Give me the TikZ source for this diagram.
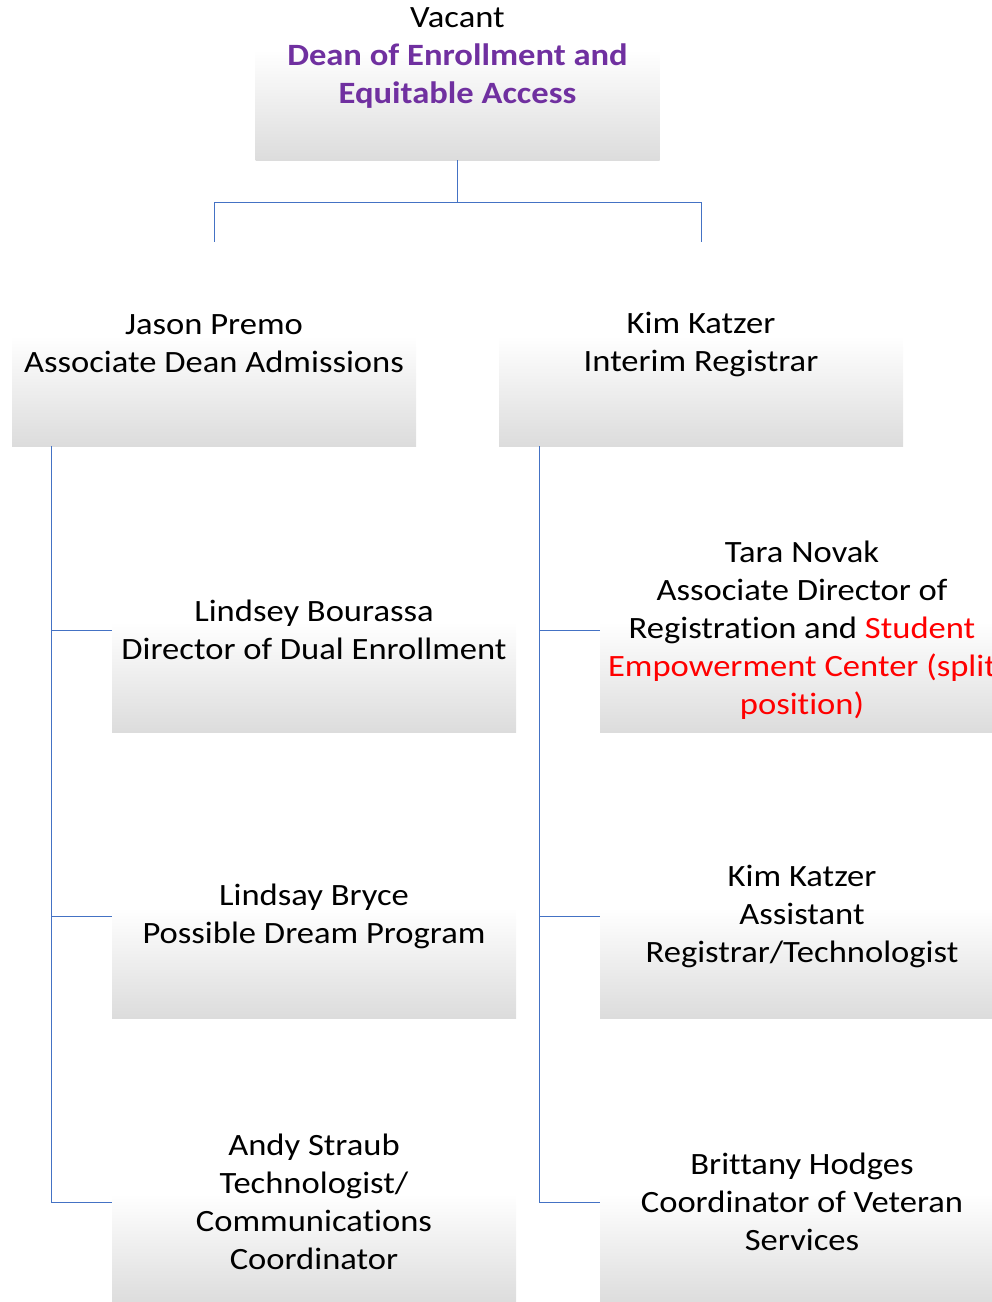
\documentclass[tikz,border=0pt]{standalone}
\usepackage{fontspec}
\setmainfont{Carlito}[FakeStretch=1.115, Ligatures={NoCommon,NoContextual}, RawFeature={-liga;-clig;-dlig}]
\usetikzlibrary{calc}
\definecolor{linkblue}{HTML}{4472C4}
\definecolor{deanpurple}{HTML}{7030A0}
\definecolor{boxgray}{HTML}{DCDCDC}
\definecolor{splitred}{HTML}{FF0000}
\pgfdeclareverticalshading{boxshade}{100bp}{color(0bp)=(boxgray); color(25bp)=(boxgray); color(52bp)=(white); color(100bp)=(white)}
\tikzset{
  orgbox/.style={rectangle, shading=boxshade, draw=none, minimum width=404pt, minimum height=204pt,
    inner sep=0pt, align=center, font=\fontsize{31}{38}\selectfont},
  link/.style={draw=linkblue, line width=1pt}
}
\begin{document}
\begin{tikzpicture}[x=1pt,y=-1pt]
\useasboundingbox (0,0) rectangle (992,1302);
\clip (0,0) rectangle (992,1302);
% top level
\node[orgbox] (dean) at (457.5,58) {Vacant\\{\bfseries\color{deanpurple}Dean of Enrollment and}\\{\bfseries\color{deanpurple}Equitable Access}};
% second level
\node[orgbox] (jason) at (214,344) {Jason Premo\\Associate Dean Admissions};
\node[orgbox] (kim) at (701,344) {Kim Katzer\\Interim Registrar};
% admissions reports
\node[orgbox] (lindsey) at (314,630) {Lindsey Bourassa\\Director of Dual Enrollment};
\node[orgbox] (bryce) at (314,916) {Lindsay Bryce\\Possible Dream Program};
\node[orgbox] (straub) at (314,1202) {Andy Straub\\Technologist/\\Communications\\Coordinator};
% registrar reports
\node[orgbox] (tara) at (802,630) {Tara Novak\\Associate Director of\\Registration and {\color{splitred}Student}\\{\color{splitred}Empowerment Center (split}\\{\color{splitred}position)}};
\node[orgbox] (kimb) at (802,916) {Kim Katzer\\Assistant\\Registrar/Technologist};
\node[orgbox] (hodges) at (802,1202) {Brittany Hodges\\Coordinator of Veteran\\Services};
% connectors
\draw[link] (dean.south) -- ++(0,42) -| (jason.north);
\draw[link] (dean.south) -- ++(0,42) -| (kim.north);
\draw[link] ([xshift=40pt]jason.south west) |- (lindsey.west);
\draw[link] ([xshift=40pt]jason.south west) |- (bryce.west);
\draw[link] ([xshift=40pt]jason.south west) |- (straub.west);
\draw[link] ([xshift=41pt]kim.south west) |- (tara.west);
\draw[link] ([xshift=41pt]kim.south west) |- (kimb.west);
\draw[link] ([xshift=41pt]kim.south west) |- (hodges.west);
\end{tikzpicture}
\end{document}
